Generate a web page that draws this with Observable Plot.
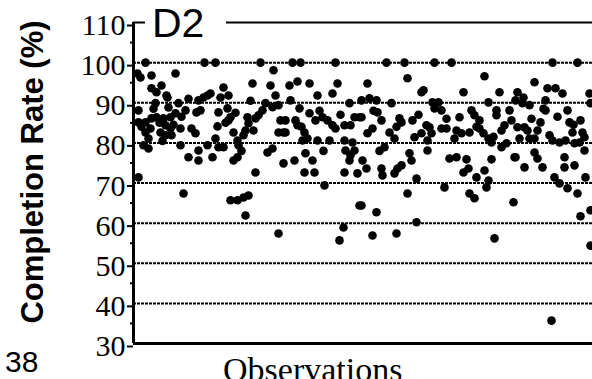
<!DOCTYPE html>
<html>
<head>
<meta charset="utf-8">
<script src="https://cdn.jsdelivr.net/npm/d3@7"></script>
<script src="https://cdn.jsdelivr.net/npm/@observablehq/plot@0.6"></script>
<style>
  html, body { margin: 0; padding: 0; background: #fff; overflow: hidden; }
  #chart { width: 592px; height: 379px; overflow: hidden; }
</style>
</head>
<body>
<div id="chart"></div>
<script>
// Observation index (position along the series) and completion rate (%)
const observation = [
  12, 71, 7, 4, 18, 42, 18, 23, 28, 33, 5, 22, 65, 70, 63, 45, 52, 42, 37, 30,
  23, 18, 12, 5, 32, 37, 27, 17, 12, 47, 58, 62, 32, 38, 15, 15, 47, 10, 65, 55,
  65, 5, 50, 34, 67, 8, 20, 26, 35, 40, 48, 55, 29,
  82, 127, 140, 119, 137, 90, 77, 74, 87, 95, 142, 85, 94, 97, 95, 132, 139, 145, 129, 125,
  122, 114, 115, 120, 112, 110, 147, 145, 150, 84, 100, 82, 74, 85, 90, 105, 104, 79, 100, 104,
  134, 139, 150, 122, 97, 104, 110, 115, 112, 145, 92, 102, 117, 108,
  159, 167, 202, 156, 164, 176, 204, 184, 199, 157, 216, 166, 176, 152, 162, 164, 182, 189, 194, 199,
  202, 211, 217, 221, 226, 152, 171, 174, 169, 184, 196, 211, 219, 161, 172, 179, 171, 181, 212, 217,
  221, 216, 211, 224, 191, 226, 210, 206, 168, 186, 207, 190,
  253, 271, 301, 234, 274, 288, 290, 228, 236, 243, 258, 299, 301, 228, 244, 248, 266, 268, 279, 239,
  234, 256, 261, 251, 281, 288, 293, 296, 298, 294, 294, 229, 233, 248, 249, 261, 264, 268, 276, 278,
  283, 274, 228, 243, 283, 239, 263, 240, 263, 285, 246,
  318, 351, 330, 366, 305, 308, 355, 363, 363, 338, 341, 346, 376, 378, 371, 368, 326, 308, 313, 323,
  321, 328, 336, 346, 350, 355, 358, 368, 373, 316, 323, 333, 358, 381, 330, 335, 343, 351, 355, 353,
  311, 336, 341, 380, 361, 313, 343, 360,
  419, 444, 401, 414, 422, 429, 384, 390, 382, 389, 396, 412, 412, 456, 457, 434, 436, 447, 384, 391,
  394, 407, 404, 439, 449, 451, 386, 396, 401, 416, 419, 426, 432, 441, 446, 451, 382, 401, 404, 409,
  391, 431, 431, 441, 421, 426, 434, 444, 452, 447, 457, 457, 418, 398, 410, 424, 440
];
const completionRate = [
  100, 100, 96.3, 97.3, 96.8, 97.3, 93.6, 92.6, 94.3, 91.8, 88.1, 89.9, 90.6, 91.3, 87.6, 89.9, 88.1, 87.4, 86.4, 86.1,
  86.4, 86.1, 85.1, 85.1, 84.4, 83.6, 82.6, 83.6, 82.6, 83.6, 83.6, 82.4, 81.9, 81.9, 81.1, 78.6, 79.4, 79.4, 78.1, 76.4,
  75.6, 71.4, 67.4, 91.3, 88.1, 84, 88.5, 85, 88.8, 84.5, 86.5, 91, 80.5,
  100, 100, 98.1, 94.8, 94.3, 93.8, 92.3, 91.8, 91.3, 91.8, 91.8, 87.6, 88.6, 86.4, 85.6, 89.9, 88.9, 89.4, 88.1, 86.9,
  86.1, 86.4, 84.9, 83.1, 83.1, 81.9, 85.6, 82.6, 82.6, 84.1, 82.6, 81.1, 79.4, 78.9, 78.9, 79.4, 80.6, 76.4, 75.6, 76.4,
  77.6, 78.6, 74.9, 72.6, 65.7, 65.7, 66.4, 66.9, 61.9, 57.4, 85, 87.5, 90.5, 78,
  100, 100, 100, 94.3, 95.3, 94.8, 94.8, 91.8, 92.3, 90.6, 89.9, 88.6, 87.4, 85.6, 85.6, 84.4, 85.6, 86.4, 85.6, 84.4,
  83.6, 84.4, 84.4, 86.4, 86.4, 82.6, 82.6, 81.1, 80.6, 80.6, 80.6, 80.6, 80.1, 75.6, 77.4, 75.6, 72.6, 72.6, 78.1, 76.9,
  78.1, 75.6, 72.6, 72.4, 69.4, 64.4, 58.9, 55.7, 84, 88, 87, 78,
  100, 100, 100, 94.8, 96.1, 92.6, 93.1, 90.6, 91.1, 90.6, 89.9, 90.1, 88.6, 86.4, 87.6, 85.6, 86.1, 85.1, 85.6, 83.6,
  82.4, 82.6, 81.1, 78.9, 81.4, 82.4, 84.4, 83.9, 82.4, 80.6, 78.1, 75.6, 73.6, 73.6, 71.9, 72.4, 73.6, 74.4, 77.4, 75.6,
  71.1, 67.4, 64.4, 62.7, 60.2, 56.9, 57.4, 88, 84, 87, 78,
  100, 96.6, 92.6, 92.6, 90.1, 88.1, 90.1, 88.1, 86.9, 88.1, 86.9, 85.6, 88.1, 85.6, 84.4, 83.1, 86.4, 83.6, 83.6, 83.1,
  81.1, 82.4, 82.6, 83.6, 82.4, 81.1, 80.1, 78.9, 79.9, 76.1, 76.4, 75.9, 75.9, 76.4, 72.6, 73.6, 71.4, 73.1, 70.6, 68.9,
  68.9, 67.4, 66.2, 65.2, 56.2, 86, 84, 81.5,
  100, 100, 95.1, 93.6, 93.6, 92.3, 92.6, 91.3, 90.6, 89.9, 89.4, 90.6, 88.1, 92.3, 89.9, 88.1, 85.1, 85.6, 83.9, 83.9,
  83.1, 85.1, 83.1, 82.6, 82.6, 81.4, 81.1, 81.1, 81.1, 81.9, 80.6, 80.1, 80.6, 79.9, 80.1, 78.1, 76.4, 77.6, 76.1, 73.9,
  73.9, 76.4, 73.9, 74.4, 71.4, 69.9, 68.7, 67.4, 71.4, 61.7, 63.2, 54.4, 35.7, 86, 88.5, 86.5, 84.5
];
const yTicks = [30, 40, 50, 60, 70, 80, 90, 100, 110];
const gridValues = [40, 50, 60, 70, 80, 90, 100];
const minorTicks = [35, 45, 55, 65, 75, 85, 95, 105];
const title = "D2";
const yLabel = "Completion Rate (%)";
const xLabel = "Observations";
const pageNumber = "38";

const data = observation.map((o, i) => ({obs: o, rate: completionRate[i]}));

const chart = Plot.plot({
  width: 592,
  height: 379,
  marginLeft: 133,
  marginRight: 0,
  marginTop: 22,
  marginBottom: 36,
  style: {background: "#fff", color: "#000", overflow: "hidden"},
  x: {domain: [0, 459], axis: null},
  y: {domain: [30, 110], axis: null},
  marks: [
    Plot.ruleY(gridValues, {stroke: "#000", strokeWidth: 2, strokeDasharray: "3,1"}),
    Plot.dot(data, {x: "obs", y: "rate", r: 4.3, fill: "#000", stroke: "none"}),
    Plot.axisY({
      ticks: yTicks, tickSize: 6, tickPadding: 2, strokeWidth: 2,
      fontSize: 30, fontFamily: "Liberation Serif, serif", tickFormat: d => String(d),
      dy: 3, label: null
    }),
    Plot.axisY({ticks: minorTicks, tickSize: 3, strokeWidth: 2, text: null, label: null}),
    Plot.ruleX([0], {y1: 30, y2: 110, stroke: "#000", strokeWidth: 3}),
    Plot.ruleY([30], {stroke: "#000", strokeWidth: 3}),
    Plot.ruleY([110], {x1: 93, x2: 459, stroke: "#000", strokeWidth: 2}),
    Plot.ruleY([110], {x1: 0, x2: 12, stroke: "#000", strokeWidth: 2})
  ]
});

document.getElementById("chart").appendChild(chart);

const svg = d3.select(chart);
svg.append("text")
  .attr("x", 152).attr("y", 37)
  .attr("text-anchor", "start")
  .attr("font-family", "Liberation Sans, Arial, sans-serif")
  .attr("font-size", 41)
  .attr("fill", "#000")
  .text(title);
svg.append("text")
  .attr("transform", "translate(43,172) rotate(-90)")
  .attr("text-anchor", "middle")
  .attr("font-family", "Liberation Sans, Arial, sans-serif")
  .attr("font-weight", "bold")
  .attr("font-size", 31)
  .attr("fill", "#000")
  .text(yLabel);
svg.append("text")
  .attr("x", 5).attr("y", 372)
  .attr("text-anchor", "start")
  .attr("font-family", "Liberation Sans, Arial, sans-serif")
  .attr("font-size", 30)
  .attr("fill", "#000")
  .text(pageNumber);
svg.append("text")
  .attr("x", 223).attr("y", 381)
  .attr("text-anchor", "start")
  .attr("font-family", "Liberation Serif, serif")
  .attr("font-size", 34)
  .attr("fill", "#000")
  .text(xLabel);
</script>
</body>
</html>
